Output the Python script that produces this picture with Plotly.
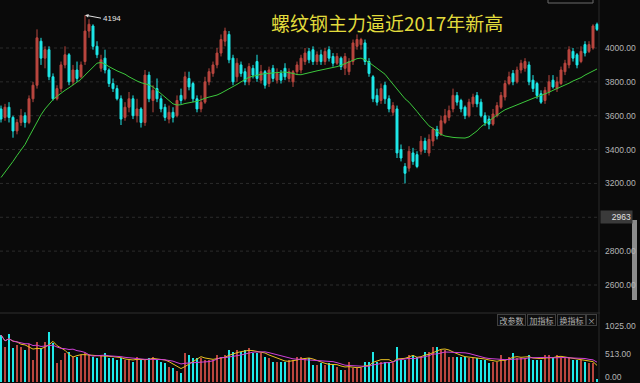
import plotly.graph_objects as go
import pandas as pd

open_ = [3640,3590,3650,3590,3510,3560,3600,3560,3700,3780,4040,3940,3990,3830,3700,3760,3900,3960,3800,3870,
         3830,3920,4100,4130,4010,3880,3940,3870,3790,3760,3700,3590,3650,3700,3600,3640,3560,3840,
         3690,3760,3700,3650,3580,3620,3600,3720,3700,3820,3790,3700,3640,3680,3800,3850,3900,3970,4040,4080,
         3940,3830,3900,3860,3800,3880,3920,3810,3860,3790,3880,3810,3850,3880,3820,3800,3860,
         3870,3920,3980,3990,3920,3960,3920,3990,3950,3910,3940,3880,3860,3920,4010,4020,4030,3920,3830,3720,
         3690,3780,3700,3620,3640,3400,3300,3290,3380,3370,3390,3450,3380,3450,3520,3490,3560,3590,
         3640,3720,3690,3650,3600,3670,3720,3680,3600,3580,3550,3600,3650,3710,3790,3850,3800,3870,3880,3900,
         3810,3790,3730,3690,3740,3810,3760,3790,3860,3900,3980,3960,3920,4020,3980,4000,4140]
high = [3660,3670,3680,3600,3580,3640,3620,3720,3800,4110,4060,4010,4010,3850,3780,3920,4010,3970,3900,3920,
        3920,4194,4170,4140,4040,3960,3990,3880,3820,3780,3720,3680,3740,3720,3700,3650,3870,3860,
        3780,3820,3720,3670,3660,3650,3720,3760,3860,3860,3800,3720,3720,3830,3880,3920,4000,4080,4120,4100,
        3960,3940,3920,3880,3910,3900,3960,3900,3870,3890,3900,3880,3870,3910,3880,3870,3920,
        3960,4000,4000,4010,3980,3990,4000,4010,3970,3970,3950,3970,3940,4050,4080,4060,4050,3940,3840,3760,
        3790,3800,3720,3680,3660,3430,3320,3420,3410,3390,3480,3470,3490,3530,3540,3600,3640,3660,
        3760,3740,3700,3660,3700,3730,3740,3700,3620,3600,3640,3680,3740,3810,3860,3870,3890,3930,3940,3920,
        3840,3800,3750,3770,3840,3840,3830,3890,3930,4010,4000,3970,4010,4040,4040,4140,4150]
low = [3560,3570,3560,3470,3490,3540,3530,3550,3680,3760,3900,3880,3810,3690,3690,3740,3880,3780,3780,3800,
       3820,3900,4060,3990,3940,3860,3850,3770,3740,3690,3545,3570,3620,3580,3560,3530,3540,3680,
       3620,3680,3620,3570,3555,3560,3590,3670,3690,3750,3680,3620,3620,3670,3780,3830,3880,3950,4010,3910,
       3780,3800,3830,3780,3780,3820,3800,3790,3760,3770,3800,3790,3790,3810,3800,3770,3840,
       3850,3900,3910,3900,3900,3900,3900,3920,3890,3900,3870,3840,3840,3900,3990,3990,3900,3830,3680,3660,
       3670,3670,3620,3600,3350,3330,3200,3270,3310,3290,3370,3380,3360,3420,3460,3480,3550,3570,
       3620,3660,3620,3580,3590,3650,3650,3590,3540,3520,3540,3590,3640,3690,3780,3780,3790,3850,3860,3780,
       3740,3700,3670,3670,3720,3760,3740,3780,3840,3880,3920,3880,3910,3950,3970,3990,4100]
close = [3580,3650,3590,3510,3560,3600,3560,3700,3780,4060,3940,3990,3830,3700,3760,3900,3960,3800,3870,3820,
         3900,4100,4140,4010,3960,3930,3870,3790,3760,3700,3580,3650,3700,3600,3640,3560,3840,3700,
         3750,3700,3640,3590,3620,3590,3690,3690,3830,3770,3700,3640,3680,3800,3860,3900,3970,4050,4100,3930,
         3800,3910,3850,3800,3890,3840,3820,3860,3780,3870,3820,3850,3810,3830,3860,3860,3900,
         3940,3970,3930,3920,3960,3920,3980,3940,3910,3950,3890,3950,3920,4030,4050,4050,3920,3850,3700,3680,
         3760,3700,3640,3660,3380,3350,3260,3390,3330,3300,3450,3400,3460,3520,3480,3570,3600,3630,
         3720,3680,3640,3600,3680,3710,3670,3600,3560,3550,3610,3660,3720,3790,3830,3800,3870,3910,3920,3800,
         3760,3720,3680,3750,3800,3770,3800,3870,3910,3990,3940,3900,3980,3970,4020,4130,4110]
ma_line = [3235,3265,3295,3330,3365,3395,3430,3475,3520,3565,3605,3640,3670,3695,3715,3735,3750,3765,3780,3800,
           3815,3840,3865,3890,3910,3915,3905,3890,3875,3865,3855,3845,3830,3815,3805,3795,3790,3782,
           3770,3750,3730,3705,3685,3670,3663,3665,3672,3678,3681,3685,3695,3703,3710,3716,3722,3733,3745,3758,
           3770,3785,3800,3815,3827,3833,3840,3845,3848,3851,3853,3855,3857,3858,3856,3850,3843,
           3842,3848,3855,3860,3865,3870,3874,3878,3882,3890,3898,3908,3918,3928,3937,3940,3930,3915,3898,3880,
           3865,3845,3815,3785,3755,3725,3700,3680,3655,3625,3595,3565,3540,3525,3505,3490,3480,3475,
           3472,3470,3468,3468,3475,3490,3510,3535,3552,3570,3590,3605,3620,3635,3645,3655,3663,3672,3683,3695,
           3705,3712,3720,3728,3738,3750,3760,3768,3780,3792,3805,3815,3825,3840,3852,3865,3876]
volume = [860,646,870,616,677,646,586,700,403,738,616,738,920,710,342,403,525,555,464,464,
          494,525,494,464,433,494,525,433,433,403,433,403,403,372,464,403,403,433,
          464,403,372,342,280,250,200,159,525,494,433,433,433,403,403,403,494,464,494,586,
          555,586,555,586,616,525,525,525,464,433,372,372,372,372,403,403,464,
          464,433,433,311,311,342,311,342,311,280,220,220,372,250,250,250,372,372,555,372,
          372,372,372,342,646,403,403,494,494,464,464,555,555,646,646,586,586,464,
          464,464,464,464,433,433,433,403,403,342,372,372,494,403,464,525,433,433,433,494,
          403,403,403,494,494,433,494,433,433,433,403,403,403,372,342,342,60]

price_ticks = [4000, 3800, 3600, 3400, 3200, 2800, 2600]
grid_levels = [4000, 3800, 3600, 3400, 3200, 3000, 2800, 2600]
vol_ticks = [1025, 513, 0]
title_text = "螺纹钢主力逼近2017年新高"
buttons = ["改参数", "加指标", "换指标", "×"]

RED = "#b9463f"
CYAN = "#1ee8e8"
W, H = 640, 383
PW = 600

x = list(range(len(close)))
bar_colors = [RED if c >= o else CYAN for o, c in zip(open_, close)]

vs = pd.Series(volume, dtype=float)
vma5 = vs.rolling(5, min_periods=1).mean()
vma10 = vs.rolling(10, min_periods=1).mean()

fig = go.Figure()
fig.add_trace(go.Candlestick(
    x=x, open=open_, high=high, low=low, close=close,
    increasing=dict(line=dict(color=RED, width=1), fillcolor=RED),
    decreasing=dict(line=dict(color=CYAN, width=1), fillcolor=CYAN),
    whiskerwidth=0, xaxis="x", yaxis="y", showlegend=False, hoverinfo="skip"))
fig.add_trace(go.Scatter(x=x, y=ma_line, mode="lines", line=dict(color="#3cc83c", width=1),
                         xaxis="x", yaxis="y", showlegend=False, hoverinfo="skip"))
fig.add_trace(go.Bar(x=x, y=volume, marker=dict(color=bar_colors, line=dict(width=0)), width=0.62,
                     xaxis="x2", yaxis="y2", showlegend=False, hoverinfo="skip"))
fig.add_trace(go.Scatter(x=x, y=vma5, mode="lines", line=dict(color="#e8c020", width=1),
                         xaxis="x2", yaxis="y2", showlegend=False, hoverinfo="skip"))
fig.add_trace(go.Scatter(x=x, y=vma10, mode="lines", line=dict(color="#d040d8", width=1),
                         xaxis="x2", yaxis="y2", showlegend=False, hoverinfo="skip"))

split = 70 / H
xr = [-0.25, len(close) - 0.25]
axis_common = dict(showgrid=False, zeroline=False, showticklabels=False, ticks="", showline=False)
fig.update_layout(
    width=W, height=H, margin=dict(l=0, r=W - PW, t=0, b=0),
    paper_bgcolor="#0a0a0a", plot_bgcolor="#0a0a0a",
    xaxis=dict(domain=[0, 1], range=xr, rangeslider=dict(visible=False), anchor="y", **axis_common),
    yaxis=dict(domain=[split, 1], range=[2434.6, 4283.5], anchor="x", **axis_common),
    xaxis2=dict(domain=[0, 1], range=xr, anchor="y2", matches="x", **axis_common),
    yaxis2=dict(domain=[0, split], range=[-18.3, 1262.7], anchor="x2", **axis_common),
    bargap=0, showlegend=False,
)

shapes = []
for g in grid_levels:
    shapes.append(dict(type="line", xref="paper", yref="y", x0=0, x1=1, y0=g, y1=g,
                       line=dict(color="#2c2c2c", width=1, dash="dot"), layer="below"))
shapes.append(dict(type="line", xref="paper", yref="paper", x0=0, x1=1, y0=split, y1=split,
                   line=dict(color="#2e2e2e", width=1)))
shapes.append(dict(type="line", xref="paper", yref="paper", x0=599 / PW, x1=599 / PW, y0=0, y1=1,
                   line=dict(color="#2a2a2a", width=1)))
# scrollbar
shapes.append(dict(type="rect", xref="paper", yref="paper", x0=632 / PW, x1=637 / PW,
                   y0=(H - 300) / H, y1=(H - 220) / H, fillcolor="#8c8c8c", line=dict(width=0)))
# partial tooltip box at the top
shapes.append(dict(type="rect", xref="paper", yref="paper", x0=548 / PW, x1=593 / PW,
                   y0=(H - 3) / H, y1=1.02, fillcolor="#0a0a0a", line=dict(color="#6a6a6a", width=1)))
fig.update_layout(shapes=shapes)

lab_font = dict(family="Liberation Sans, Arial, sans-serif", size=8.5, color="#b4b4b4")
ann = []
for p in price_ticks:
    ann.append(dict(text=f"{p}.00", xref="paper", yref="y", x=1, y=p, xanchor="left", yanchor="middle",
                    xshift=3, showarrow=False, font=lab_font))
ann.append(dict(text="2963", xref="paper", yref="y", x=1, y=3000, xanchor="left", yanchor="middle",
                xshift=0, showarrow=False, font=dict(family="Liberation Sans, Arial", size=8.5, color="#e0e0e0"),
                bgcolor="#3a3a3a", width=29, align="right", borderpad=1))
for v in vol_ticks:
    ann.append(dict(text=f"{v}.00", xref="paper", yref="y2", x=1, y=v, xanchor="left", yanchor="middle",
                    xshift=3, yshift=5 if v == 0 else 0, showarrow=False, font=lab_font))
ann.append(dict(text=title_text, xref="paper", yref="paper", x=387 / PW, y=(H - 23) / H,
                xanchor="center", yanchor="middle", showarrow=False,
                font=dict(family="Noto Sans CJK SC", size=19, color="#e2dc3c")))
peak_i = high.index(max(high))
ann.append(dict(text=str(max(high)), x=peak_i, y=max(high), xref="x", yref="y", showarrow=True,
                ax=16, ay=3, xanchor="left", yanchor="middle", arrowhead=2, arrowsize=0.7,
                arrowwidth=1, arrowcolor="#e0e0e0",
                font=dict(family="Liberation Sans, Arial", size=8, color="#e8e8e8")))
bx = [511, 541, 571, 591]
bw = [27, 27, 27, 9]
for t, cx, w in zip(buttons, bx, bw):
    ann.append(dict(text=t, xref="paper", yref="paper", x=cx / PW, y=(H - 320) / H, xanchor="center",
                    yanchor="middle", showarrow=False, width=w, height=10,
                    font=dict(family="Noto Sans CJK SC", size=8, color="#b0b0b0"),
                    bgcolor="#0e0e0e", bordercolor="#404040", borderwidth=1, borderpad=0))
fig.update_layout(annotations=ann)

fig.write_html("out.html", config={"displayModeBar": False},
               post_script="document.body.style.margin='0';document.body.style.overflow='hidden';")
